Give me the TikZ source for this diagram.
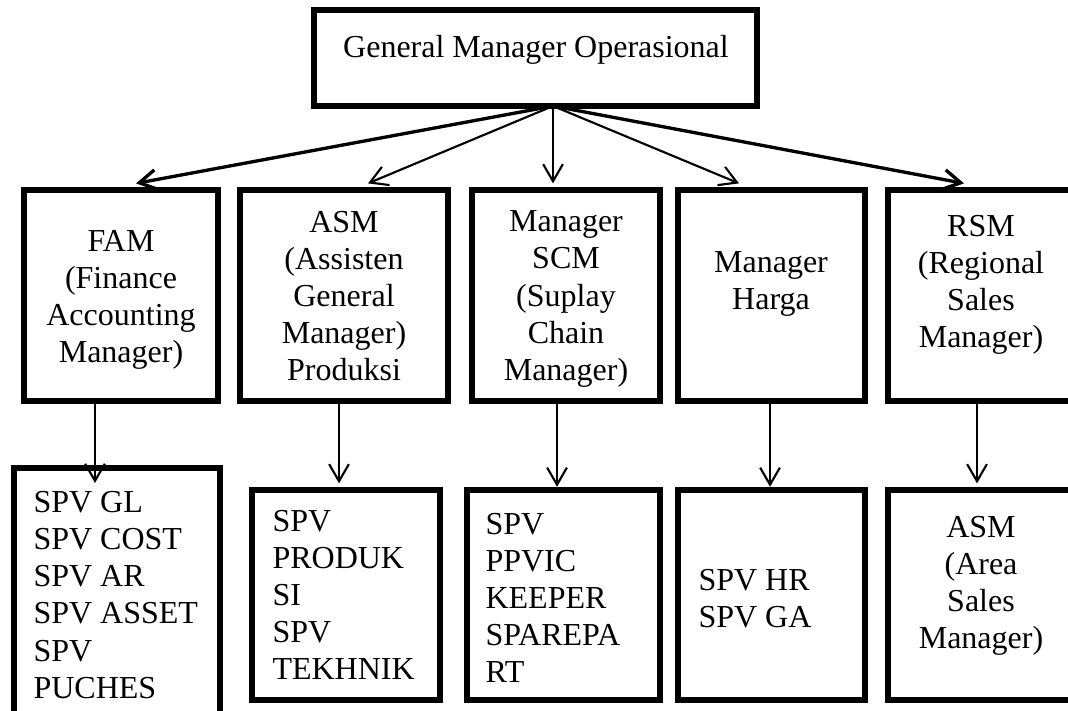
\documentclass[tikz,border=0pt]{standalone}
\usepackage{fontspec}
\setmainfont{Liberation Serif}
\usetikzlibrary{arrows.meta}

\begin{document}
\begin{tikzpicture}[x=0.375pt, y=-0.375pt,
    box/.style = {rectangle, draw, line width=2pt, inner sep=0pt, outer sep=0pt},
    txt/.style = {align=center, inner sep=0pt, font=\fontsize{12pt}{13.9pt}\selectfont},
    ltxt/.style = {txt, align=left, anchor=west},
    arr/.style = {-{Straight Barb[length=6.4pt, width=7.4pt]}, line width=0.8pt}]
    \useasboundingbox (0, 0) rectangle (1068, 710);
    \clip (0, 0) rectangle (1068, 710);

    \node (gm) [box, minimum width=166.1pt, minimum height=36pt] at (535.5, 58) {};
    \node (gmtxt) [txt] at (536, 50) {General Manager Operasional};

    \foreach \n/\x/\w in {fam/121/72.75, asm/344/78, scm/566/70.5, harga/771.5/70.1, rsm/981/69.75}
    {
      \node (\n) [box, minimum width=\w pt, minimum height=79.1pt] at (\x, 295.5) {};
    }

    \node (spvfin) [box, minimum width=77.25pt, minimum height=98.25pt] at (117, 599) {};
    \foreach \n/\x/\w in {spvprod/346/70.5, spvscm/563.5/72.4, spvhr/771.5/70.1, areasm/981/69.75}
    {
      \node (\n) [box, minimum width=\w pt, minimum height=78.75pt] at (\x, 595) {};
    }

    \node (famtxt) [txt] at (121, 300) {FAM\\(Finance\\Accounting\\Manager)};
    \node (asmtxt) [txt] at (344, 296) {ASM\\(Assisten\\General\\Manager)\\Produksi};
    \node (scmtxt) [txt] at (566, 299) {Manager\\SCM\\(Suplay\\Chain\\Manager)};
    \node (hargatxt) [txt] at (771, 284) {Manager\\Harga};
    \node (rsmtxt) [txt] at (981, 285) {RSM\\(Regional\\Sales\\Manager)};

    \node (spvfintxt) [ltxt] at (33, 595) {SPV GL\\SPV COST\\SPV AR\\SPV ASSET\\SPV\\PUCHES};
    \node (spvprodtxt) [ltxt] at (272, 595) {SPV\\PRODUK\\SI\\SPV\\TEKHNIK};
    \node (spvscmtxt) [ltxt] at (485, 598) {SPV\\PPVIC\\KEEPER\\SPAREPA\\RT};
    \node (spvhrtxt) [ltxt] at (698, 599) {SPV HR\\SPV GA};
    \node (areasmtxt) [txt] at (981, 586) {ASM\\(Area\\Sales\\Manager)};

    \coordinate (hub) at (553, 106);
    \foreach \n/\x/\lw in {fam/136/1.25, asm/368/0.8, scm/553/0.8, harga/739/0.8, rsm/964/1.25}
    {
      \draw [arr, line width=\lw pt] (hub) -- ([yshift=2.5pt] \n.north -| \x, 0);
    }

    \foreach \a/\b/\x/\s in {fam/spvfin/95/-5.6, asm/spvprod/339/2.5, scm/spvscm/557/1.2, harga/spvhr/770/1.2, rsm/areasm/977/2.5}
    {
      \draw [arr] (\a.south -| \x, 0) -- ([yshift=\s pt] \b.north -| \x, 0);
    }
  \end{tikzpicture}
\end{document}
